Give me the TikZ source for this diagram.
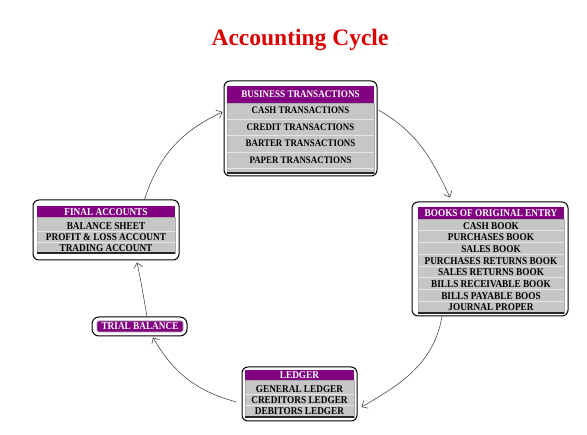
\documentclass[tikz,border=0pt]{standalone}
\usepackage{fontspec}
\setmainfont{Liberation Serif}
\newfontfamily\boxfont{Liberation Serif}[FakeStretch=0.89]
\usetikzlibrary{arrows.meta}
\definecolor{hdrpurple}{RGB}{128,0,128}
\definecolor{rowgrey}{RGB}{198,198,198}
\definecolor{titlered}{RGB}{220,0,0}
\begin{document}
\begin{tikzpicture}[x=1pt,y=-1pt,
  frame/.style={draw=black, line width=1pt, rounded corners=6pt, fill=white, inner sep=0pt},
  tbl/.style={fill=rowgrey, draw=gray!65, line width=0.5pt},
  hdr/.style={fill=hdrpurple},
  sep/.style={draw=gray!20, line width=0.5pt},
  base/.style={draw=black!85, line width=1.3pt},
  hd/.style={text=white, font=\boxfont\bfseries\fontsize{10.4}{11}\selectfont, inner sep=0pt},
  rw/.style={text=black, font=\boxfont\bfseries\fontsize{10.4}{11}\selectfont, inner sep=0pt},
  hdbt/.style={hd, font=\boxfont\bfseries\fontsize{10.2}{11}\selectfont},
  rwbt/.style={rw, font=\boxfont\bfseries\fontsize{10}{11}\selectfont},
  arr/.style={-{Straight Barb[length=5pt,width=9pt]}, line width=0.5pt, black!80}
]
\fill[white] (0,0) rectangle (587,435);
\useasboundingbox (0,0) rectangle (587,435);

% title
\node[font=\bfseries\fontsize{23.5}{26}\selectfont, text=titlered, anchor=base] (title) at (300,46) {Accounting Cycle};

% ---- Business transactions
\node[frame, minimum width=153pt, minimum height=95pt] (bt) at (300.5,128.5) {};
\filldraw[tbl] (227,103) rectangle (374,173);
\fill[hdr] (227,86) rectangle (374,103);
\foreach \yy in {119,135.5,152,168} \draw[sep] (227,\yy) -- (374,\yy);
\draw[base] (227,173) -- (374,173);
\node[hdbt] (bth) at (300.5,94.5) {BUSINESS TRANSACTIONS};
\node[rwbt] (bt1) at (300.5,110.5) {CASH TRANSACTIONS};
\node[rwbt] (bt2) at (300.5,127) {CREDIT TRANSACTIONS};
\node[rwbt] (bt3) at (300.5,143.5) {BARTER TRANSACTIONS};
\node[rwbt] (bt4) at (300.5,160.5) {PAPER TRANSACTIONS};

% ---- Books of original entry
\node[frame, minimum width=156pt, minimum height=114pt] (boe) at (490,259) {};
\filldraw[tbl] (418,219) rectangle (564,313);
\fill[hdr] (418,207) rectangle (564,219);
\foreach \k in {1,...,7} \draw[sep] (418,219+11.75*\k) -- (564,219+11.75*\k);
\draw[base] (418,313) -- (564,313);
\node[hd] (boeh) at (491,213) {BOOKS OF ORIGINAL ENTRY};
\node[rw] (b1) at (491,225.9) {CASH BOOK};
\node[rw] (b2) at (491,237.6) {PURCHASES BOOK};
\node[rw] (b3) at (491,249.2) {SALES BOOK};
\node[rw] (b4) at (491,260.9) {PURCHASES RETURNS BOOK};
\node[rw] (b5) at (491,272.6) {SALES RETURNS BOOK};
\node[rw] (b6) at (491,284.4) {BILLS RECEIVABLE BOOK};
\node[rw] (b7) at (491,296.1) {BILLS PAYABLE BOOS};
\node[rw] (b8) at (491,307.6) {JOURNAL PROPER};

% ---- Final accounts
\node[frame, minimum width=146pt, minimum height=60pt] (fa) at (106,230) {};
\filldraw[tbl] (37,217) rectangle (175,253);
\fill[hdr] (37,206.5) rectangle (175,217);
\foreach \yy in {231.5,242.5} \draw[sep] (37,\yy) -- (175,\yy);
\draw[base] (37,253) -- (175,253);
\node[hd] (fah) at (106,212) {FINAL ACCOUNTS};
\node[rw] (f1) at (106,226) {BALANCE SHEET};
\node[rw] (f2) at (106,237) {PROFIT \& LOSS ACCOUNT};
\node[rw] (f3) at (106,248) {TRADING ACCOUNT};

% ---- Trial balance
\node[frame, rounded corners=7pt, minimum width=95pt, minimum height=19pt] (tb) at (139.5,326.5) {};
\filldraw[fill=hdrpurple, draw=gray!70, line width=0.6pt, rounded corners=1.5pt] (97,321) rectangle (183,332);
\node[hd] (tbt) at (140,326.5) {TRIAL BALANCE};

% ---- Ledger
\node[frame, minimum width=115pt, minimum height=54pt] (ld) at (299.5,394) {};
\filldraw[tbl] (245,380) rectangle (354,417);
\fill[hdr] (245,370) rectangle (354,380);
\foreach \yy in {394.5,405.5} \draw[sep] (245,\yy) -- (354,\yy);
\draw[base] (245,417) -- (354,417);
\node[hd] (ldh) at (299.5,375) {LEDGER};
\node[rw] (l1) at (299.5,389) {GENERAL LEDGER};
\node[rw] (l2) at (299.5,400) {CREDITORS LEDGER};
\node[rw] (l3) at (299.5,411) {DEBITORS LEDGER};

% ---- connectors
\draw[arr] ([yshift=18.5pt,xshift=1pt]bt.east) to[out=-30,in=115] ([xshift=-40pt,yshift=4pt]boe.north);
\draw[arr] ([xshift=-48pt]boe.south) to[out=-100,in=30] ([xshift=4pt,yshift=-13pt]ld.east);
\draw[arr] ([xshift=-5pt,yshift=-8pt]ld.west) to[out=165,in=-60] ([xshift=13.5pt,yshift=-1pt]tb.south);
\draw[arr] ([xshift=7.5pt]tb.north) to[out=100,in=-78] ([xshift=31pt,yshift=-2pt]fa.south);
\draw[arr] ([xshift=38.5pt]fa.north) to[out=72,in=-155] ([xshift=-1pt,yshift=16.5pt]bt.west);
\end{tikzpicture}
\end{document}
